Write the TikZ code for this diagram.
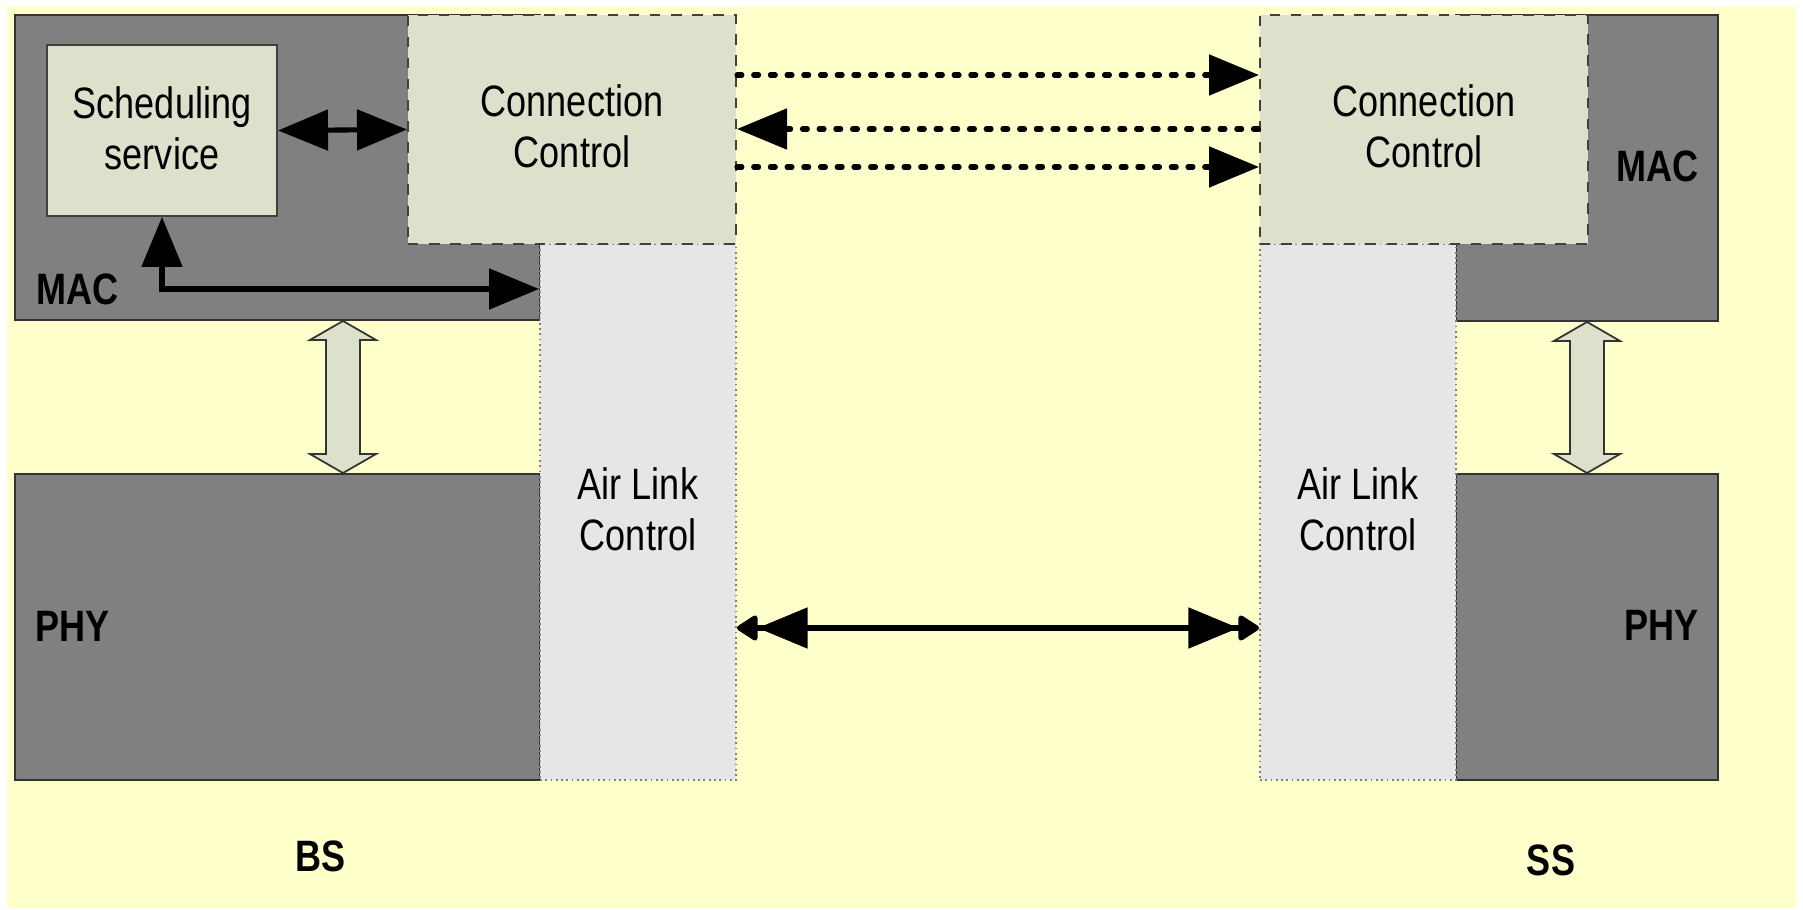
\documentclass[tikz,border=0pt]{standalone}
\usepackage{fontspec}
\setmainfont{Liberation Sans}[FakeStretch=0.82]
\usetikzlibrary{arrows.meta,calc}

\definecolor{paper}{HTML}{FFFFCC}
\definecolor{layer}{HTML}{808080}
\definecolor{ctrl}{HTML}{DDE0CA}
\definecolor{aircol}{HTML}{E6E6E6}

\tikzset{
  layerbox/.style={draw=black!80,fill=layer,line width=0.5pt,inner sep=0pt},
  ctrlbox/.style={draw=black!75,fill=ctrl,dashed,line width=0.5pt,inner sep=0pt,align=center,text depth=0.07cm},
  schedbox/.style={draw=black!75,fill=ctrl,line width=0.5pt,inner sep=0pt,align=center,text depth=0.05cm},
  airbox/.style={draw=black!50,fill=aircol,densely dotted,line width=0.5pt,inner sep=0pt,align=center,text depth=0.05cm},
  lbl/.style={font=\fontsize{12.5}{14.5}\selectfont\bfseries,inner sep=0pt},
  hollow/.style={draw=black!80,fill=ctrl,line width=0.5pt},
  conn/.style={line width=1.45pt},
  msg/.style={line width=1.45pt,dash pattern=on 1.4pt off 3.35pt,line cap=round}
}

\begin{document}
\begin{tikzpicture}[x=0.01cm,y=-0.01cm,
    every node/.style={font=\fontsize{12.5}{14.5}\selectfont},
    >={Triangle[length=0.5cm,width=0.4cm]}]
           \useasboundingbox (0,0) rectangle (1803,910);
           \fill[white] (0,0) rectangle (1803,910);
           \fill[paper] (7,6) rectangle (1796,908);

           % BS
           \node[layerbox,minimum width=5.25cm,minimum height=3.05cm] (bsmac) at (277.5,167.5) {};
           \node[layerbox,minimum width=5.25cm,minimum height=3.06cm] (bsphy) at (277.5,627) {};
           \node[airbox,minimum width=1.96cm,minimum height=5.36cm] (bsalc) at (638,512) {Air Link\\Control};
           \node[ctrlbox,minimum width=3.28cm,minimum height=2.29cm] (bscc) at (572,129.5) {Connection\\Control};
           \node[schedbox,minimum width=2.30cm,minimum height=1.71cm] (bssched) at (162,130.5) {Scheduling\\service};
           \node[lbl,anchor=west] (bsmaclbl) at (36,289) {MAC};
           \node[lbl,anchor=west] (bsphylbl) at (35,626) {PHY};
           \node[lbl] (bslbl) at (321,856) {BS};

           % SS
           \node[layerbox,minimum width=2.62cm,minimum height=3.06cm] (ssmac) at (1587,168) {};
           \node[layerbox,minimum width=2.62cm,minimum height=3.06cm] (ssphy) at (1587,627) {};
           \node[airbox,minimum width=1.96cm,minimum height=5.36cm] (ssalc) at (1358,512) {Air Link\\Control};
           \node[ctrlbox,minimum width=3.28cm,minimum height=2.29cm] (sscc) at (1424,129.5) {Connection\\Control};
           \node[lbl,anchor=east] (ssmaclbl) at (1699,166) {MAC};
           \node[lbl,anchor=east] (ssphylbl) at (1699,625) {PHY};
           \node[lbl] (sslbl) at (1551,860) {SS};

           \coordinate (sig1) at (1000,75);
           \coordinate (sig2) at (1000,129);
           \coordinate (sig3) at (1000,167);
           \coordinate (radio) at (1000,628);

           % MAC <-> PHY
           \foreach \n/\x in {bs/343,ss/1587}{
             \coordinate (\n mid) at (\x,400);
             \draw[hollow] (\n mid |- \n mac.south) -- ++(33,19) -- ++(-16,0)
               -- ($(\n mid |- \n phy.north)+(17,-19)$) -- ++(16,0) -- (\n mid |- \n phy.north)
               -- ++(-33,-19) -- ++(16,0) -- ($(\n mid |- \n mac.south)+(-17,19)$) -- ++(-16,0) -- cycle;
           }

           \draw[conn,<->] (bssched.east) -- (bscc.west);
           \draw[conn,<->] (bssched.south) |- (bsalc.west |- bsmaclbl.west);

           \draw[msg,->] (bscc.east |- sig1) -- (sscc.west |- sig1);
           \draw[msg,<-] (bscc.east |- sig2) -- (sscc.west |- sig2);
           \draw[msg,->] (bscc.east |- sig3) -- (sscc.west |- sig3);

           \draw[conn,{Triangle[round,length=0.23cm,width=0.28cm]Triangle[length=0.5cm,width=0.4cm]}-{Triangle[length=0.5cm,width=0.4cm]Triangle[round,length=0.23cm,width=0.28cm]}]
             (bsalc.east |- radio) -- (ssalc.west |- radio);
         \end{tikzpicture}
\end{document}
